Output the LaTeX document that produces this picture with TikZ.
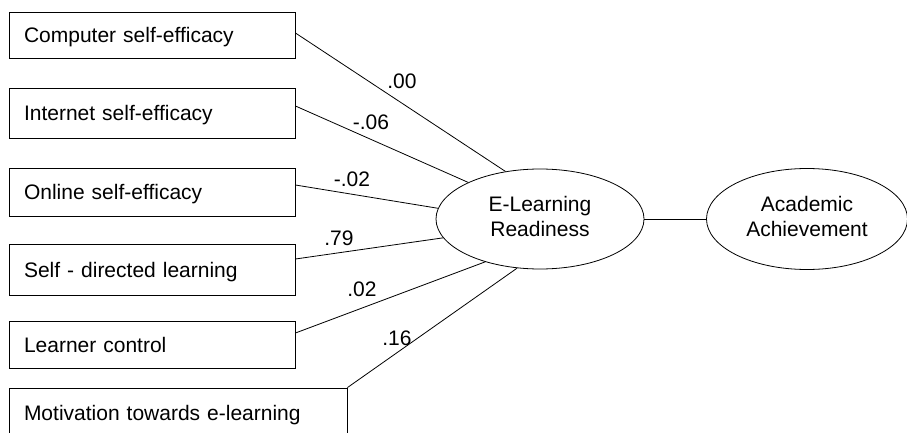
\documentclass[tikz,border=0pt]{standalone}
\usepackage{fontspec}
\setmainfont{Liberation Sans}
\usetikzlibrary{shapes.geometric}
\begin{document}
\begin{tikzpicture}[x=1pt,y=-1pt,
  txt/.style={font=\fontsize{21}{25}\selectfont},
  box/.style={txt, draw, line width=0.9pt, align=left, inner xsep=15pt, inner ysep=0pt, text height=20pt, text depth=5pt},
  ell/.style={txt, draw, ellipse, line width=0.8pt, inner sep=0pt, align=center, minimum width=208pt, minimum height=100pt},
  lbl/.style={txt, inner sep=0pt},
  conn/.style={line width=0.8pt}]
\useasboundingbox (0,0) rectangle (907,433);
\clip (0,0) rectangle (907,433);
% indicator boxes
\node[box, text width=256pt, minimum height=46pt] (b1) at (152,35) {Computer self-efficacy};
\node[box, text width=256pt, minimum height=50pt] (b2) at (152,113) {Internet self-efficacy};
\node[box, text width=256pt, minimum height=48pt] (b3) at (152,192) {Online self-efficacy};
\node[box, text width=256pt, minimum height=51pt] (b4) at (152,269.5) {Self - directed learning};
\node[box, text width=256pt, minimum height=47pt] (b5) at (152,344.5) {Learner control};
\node[box, text width=308pt, minimum height=50pt] (b6) at (178,413) {Motivation towards e-learning};
% latent variables
\node[ell] (elr) at (540,219) {E-Learning\\Readiness\rule[-6pt]{0pt}{6pt}};
\node[ell, minimum width=201pt, minimum height=101pt] (ach) at (807,219) {Academic\\Achievement\rule[-6pt]{0pt}{6pt}};
% connectors
\draw[conn] ([yshift=2pt]b1.east) -- (elr.126);
\draw[conn] ([yshift=7pt]b2.east) -- (elr.153);
\draw[conn] ([yshift=7pt]b3.east) -- (elr.174);
\draw[conn] ([yshift=10.5pt]b4.east) -- (elr.191);
\draw[conn] ([yshift=11.5pt]b5.east) -- (elr.218);
\draw[conn] (b6.north east) -- (elr.245);
\draw[conn] (elr.east) -- (ach.west);
% coefficients
\node[lbl] (l1) at (402,81) {.00};
\node[lbl] (l2) at (371,122) {-.06};
\node[lbl] (l3) at (352,179) {-.02};
\node[lbl] (l4) at (339,238) {.79};
\node[lbl] (l5) at (362,289) {.02};
\node[lbl] (l6) at (397,338) {.16};
\end{tikzpicture}
\end{document}
